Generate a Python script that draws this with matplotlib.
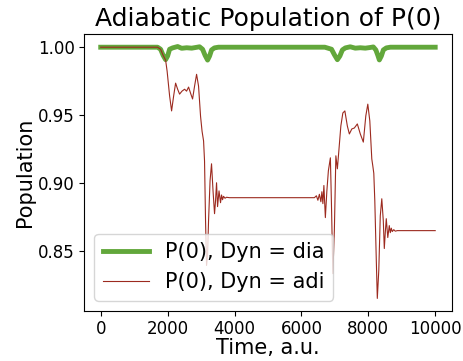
import matplotlib
matplotlib.use("Agg")
import matplotlib.pyplot as plt

# values
t_dia = [0, 1700, 1790, 1866, 1940, 2000, 2060, 2150, 2300, 2420, 2570, 2720,
         2840, 2955, 3045, 3120, 3195, 3255, 3315, 3400, 3520, 6700, 6900,
         6985, 7075, 7150, 7225, 7315, 7460, 7610, 7760, 7910, 8060, 8150,
         8225, 8285, 8330, 8390, 8450, 8540, 8660, 10000]
p_dia = [1.0, 1.0, 0.9985, 0.994, 0.9908, 0.9935, 0.9985, 0.9995, 1.0005,
         0.9992, 0.9996, 0.9993, 0.9998, 1.0003, 0.9985, 0.994, 0.9905,
         0.9935, 0.998, 0.9995, 1.0, 1.0, 0.9985, 0.9945, 0.9908, 0.9935,
         0.998, 0.9995, 1.0003, 0.9993, 0.9996, 0.9993, 0.9998, 1.0002,
         0.998, 0.994, 0.9906, 0.9935, 0.998, 0.9995, 1.0, 1.0]

t_adi = [0, 1700, 1790, 1866, 1940, 1985, 2060, 2119, 2180, 2239, 2300, 2358,
         2430, 2507, 2567, 2627, 2687, 2746, 2806, 2866, 2925, 2985, 3030,
         3075, 3104, 3134, 3164, 3194, 3224, 3269, 3313, 3358, 3403, 3433,
         3463, 3493, 3537, 3582, 3612, 3642, 3672, 3716, 3761, 3851, 6388,
         6448, 6493, 6537, 6582, 6612, 6642, 6672, 6716, 6761, 6806, 6866,
         6896, 6940, 6985, 7030, 7075, 7119, 7179, 7239, 7299, 7373, 7433,
         7507, 7582, 7672, 7761, 7851, 7925, 7985, 8045, 8104, 8134, 8164,
         8194, 8239, 8269, 8313, 8358, 8403, 8448, 8478, 8507, 8537, 8582,
         8627, 8657, 8687, 8716, 8761, 8806, 8866, 10000]
p_adi = [1.0, 1.0, 0.9985, 0.994, 0.9905, 0.9824, 0.964, 0.953, 0.964,
         0.9735, 0.969, 0.9654, 0.9676, 0.969, 0.9676, 0.9706, 0.966,
         0.9618, 0.9713, 0.980, 0.9713, 0.949, 0.938, 0.9309, 0.916, 0.872,
         0.839, 0.8463, 0.872, 0.9015, 0.914, 0.894, 0.8772, 0.8868, 0.900,
         0.8824, 0.894, 0.8853, 0.891, 0.8875, 0.890, 0.8886, 0.8893, 0.889,
         0.889, 0.8904, 0.8871, 0.8915, 0.886, 0.8934, 0.8846, 0.898, 0.8743,
         0.894, 0.9088, 0.9184, 0.8868, 0.833, 0.8647, 0.9199, 0.9103,
         0.9235, 0.9419, 0.9515, 0.953, 0.9419, 0.936, 0.9397, 0.9404,
         0.9434, 0.936, 0.930, 0.9493, 0.958, 0.9456, 0.9176, 0.9125, 0.907,
         0.8868, 0.8426, 0.8147, 0.8353, 0.8757, 0.8882, 0.872, 0.8515,
         0.8632, 0.8735, 0.8596, 0.8684, 0.8632, 0.8665, 0.864, 0.8654,
         0.8643, 0.8647, 0.8647]

fig = plt.figure(figsize=(4.64, 3.61), dpi=100)
ax = fig.add_axes([0.181, 0.1385, 0.793, 0.7675])
ax.plot(t_dia, p_dia, color="#62a73b", lw=3.5, label="P(0), Dyn = dia")
ax.plot(t_adi, p_adi, color="#9c2a1f", lw=0.8, label="P(0), Dyn = adi")
ax.set_title("Adiabatic Population of P(0)", fontsize=18)
ax.set_xlabel("Time, a.u.", fontsize=15, labelpad=0)
ax.set_ylabel("Population", fontsize=15, labelpad=2)
ax.set_xticks([0, 2000, 4000, 6000, 8000, 10000])
ax.set_yticks([0.85, 0.90, 0.95, 1.00])
ax.tick_params(labelsize=12, pad=3)
ax.legend(loc="lower left", fontsize=15, handlelength=2.2)
fig.savefig("out.png", dpi=100)
